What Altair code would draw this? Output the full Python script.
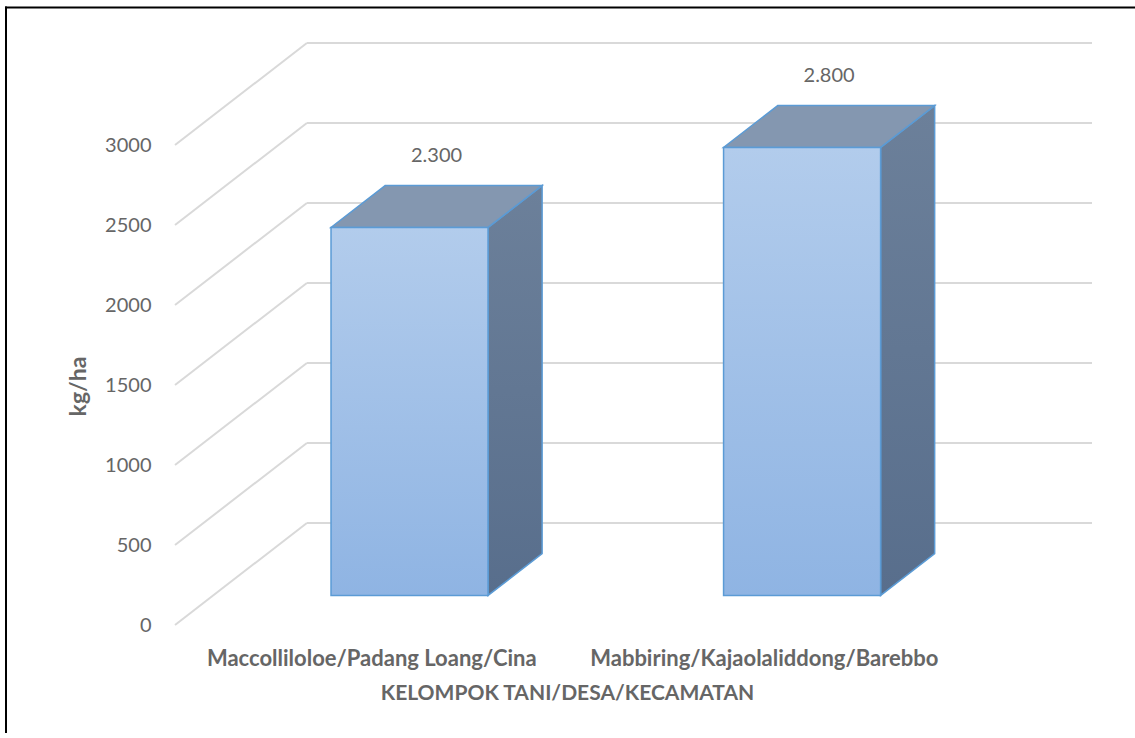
import altair as alt
import pandas as pd

# ---- data ----
categories = ["Maccolliloloe/Padang Loang/Cina", "Mabbiring/Kajaolaliddong/Barebbo"]
values = [2300, 2800]
y_ticks = [0, 500, 1000, 1500, 2000, 2500, 3000]
x_title = "KELOMPOK TANI/DESA/KECAMATAN"
y_title = "kg/ha"

# ---- 3-D projection parameters (style) ----
DX = 0.336    # depth of the box, in category units
DY = 637.5    # depth of the box, in value units
F1, F2 = 0.29, 0.70   # front / back depth fraction of the bars
HW = 0.2      # half bar width in category units
W, H = 917, 582
FONT = "Lato"
GREY = "#666666"
EDGE = "#5b9bd5"

xs = alt.Scale(domain=[0, 2 + DX], nice=False, zero=False)
ys = alt.Scale(domain=[0, max(y_ticks) + DY], nice=False, zero=False)

# gridlines: diagonal on the side wall + horizontal on the back wall
grid_rows = []
for v in y_ticks:
    grid_rows.append({"x": 0, "x2": DX, "y": v, "y2": v + DY})
    grid_rows.append({"x": DX, "x2": 2 + DX, "y": v + DY, "y2": v + DY})
grid_df = pd.DataFrame(grid_rows)

front_rows, top_rows, side_rows, lab_rows = [], [], [], []
for i, (cat, v) in enumerate(zip(categories, values)):
    c = i + 0.5
    front_rows.append({"bar": cat, "x": c - HW + F1 * DX, "x2": c + HW + F1 * DX,
                       "y": F1 * DY, "y2": v + F1 * DY})
    for f in (F1, F2):
        top_rows.append({"bar": cat, "y": v + f * DY,
                         "x": c - HW + f * DX, "x2": c + HW + f * DX})
        side_rows.append({"bar": cat, "x": c + HW + f * DX,
                          "y": f * DY, "y2": v + f * DY})
    lab_rows.append({"x": c + (F1 + F2) / 2 * DX, "y": v + (F1 + F2) / 2 * DY,
                     "label": f"{v:,}".replace(",", ".")})
front_df = pd.DataFrame(front_rows)
top_df = pd.DataFrame(top_rows)
side_df = pd.DataFrame(side_rows)
lab_df = pd.DataFrame(lab_rows)

label_expr = "[" + ",".join("'" + c + "'" for c in categories) + "][floor(datum.value)]"

x_axis = alt.Axis(values=[i + 0.5 for i in range(len(categories))], labelExpr=label_expr,
                  domain=False, ticks=False, grid=False, labelPadding=23, labelLimit=0,
                  labelFont=FONT, labelFontSize=22, labelFontWeight="bold", labelColor=GREY,
                  title=x_title, titleFont=FONT, titleFontSize=21, titleFontWeight="bold",
                  titleColor=GREY, titleX=392, titleY=68, titleBaseline="middle",
                  titleAnchor="start", titleAlign="center", labelFlush=False,
                  labelOverlap=False)
y_axis = alt.Axis(values=y_ticks, format="d", domain=False, ticks=False, grid=False,
                  labelPadding=24, labelFont=FONT, labelFontSize=20, labelColor=GREY,
                  title=y_title, titleFont=FONT, titleFontSize=23, titleFontWeight="bold",
                  titleColor=GREY, titleX=-97, titleY=343, titleBaseline="middle",
                  titleAlign="center", titleAnchor="start")

X = lambda f: alt.X(f, scale=xs, axis=x_axis)
Y = lambda f: alt.Y(f, scale=ys, axis=y_axis)

grid = alt.Chart(grid_df).mark_rule(color="#d9d9d9", strokeWidth=2).encode(
    x=X("x:Q"), x2="x2:Q", y=Y("y:Q"), y2="y2:Q")

side = alt.Chart(side_df).mark_area(
    orient="vertical", stroke=EDGE, strokeWidth=1.5,
    fill={"gradient": "linear", "x1": 0, "y1": 0, "x2": 0, "y2": 1,
          "stops": [{"offset": 0, "color": "#6c809a"}, {"offset": 1, "color": "#586e8c"}]},
).encode(x=X("x:Q"), y=Y("y2:Q"), y2="y:Q", detail="bar:N")

top = alt.Chart(top_df).mark_area(
    orient="horizontal", stroke=EDGE, strokeWidth=1.5, fill="#8497b0",
).encode(y=Y("y:Q"), x=X("x:Q"), x2="x2:Q", detail="bar:N")

front = alt.Chart(front_df).mark_rect(
    stroke=EDGE, strokeWidth=1.5,
    fill={"gradient": "linear", "x1": 0, "y1": 0, "x2": 0, "y2": 1,
          "stops": [{"offset": 0, "color": "#b2ccec"}, {"offset": 1, "color": "#8fb4e3"}]},
).encode(x=X("x:Q"), x2="x2:Q", y=Y("y:Q"), y2="y2:Q")

labels = alt.Chart(lab_df).mark_text(
    font=FONT, fontSize=20, color=GREY, dy=-51, baseline="middle", align="center"
).encode(x=X("x:Q"), y=Y("y:Q"), text="label:N")

# outer chart frame: only its top and left edges fall inside the picture
frame_df = pd.DataFrame([{"k": 0}])
frame_top = alt.Chart(frame_df).mark_rule(color="black", strokeWidth=2).encode(
    x=alt.value(-170), x2=alt.value(1000), y=alt.value(-35.5))
frame_left = alt.Chart(frame_df).mark_rule(color="black", strokeWidth=2).encode(
    x=alt.value(-169), y=alt.value(-36.5), y2=alt.value(800))

chart = alt.layer(grid, side, top, front, labels, frame_top, frame_left).properties(
    width=W, height=H,
    autosize=alt.AutoSizeParams(type="none"),
    padding={"left": 175, "top": 43, "right": 43, "bottom": 108},
    background="white",
).configure_view(stroke=None)

chart.save("out.html", embed_options={"renderer": "svg", "actions": False})
